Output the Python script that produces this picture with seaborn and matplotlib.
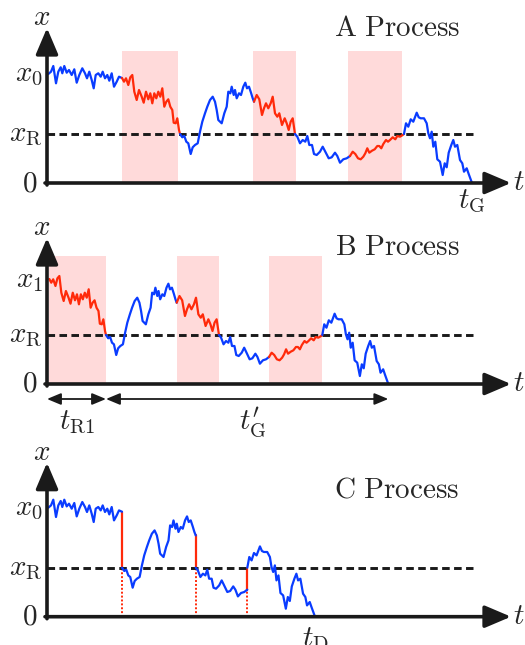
import numpy as np
import matplotlib
matplotlib.use('Agg')
import matplotlib.pyplot as plt
import seaborn as sns

# один и тот же путь x(t), прочитанный с панели A (единицы ~ пиксели)
plateau_t = [1.3, 4, 6.3, 9, 11.3, 13.7, 15.3, 17.3, 19.7, 22, 24.7, 27.3, 29.7, 32.3, 35.3, 38,
             40, 42.3, 44.7, 46.7, 48.7, 51.3, 53.7, 55.7, 58, 60.3, 62.3, 64.7, 67, 69.7, 72, 75]
plateau_x = [109, 111.3, 117, 99.7, 111.3, 115.7, 109.7, 117, 110.3, 113, 108, 113.7, 100.3, 108,
             114.7, 109.7, 104.7, 111.3, 103, 94.7, 108, 109.7, 106.3, 111.3, 104.7, 108, 102.3,
             109.7, 96.3, 101.3, 106.3, 105]
red1_t = [75, 77, 79, 81.3, 83.3, 85.3, 87.3, 89.7, 92, 94.7, 96.7, 99, 101.3, 103.3, 105.3, 107.3,
          109.3, 111.3, 113.3, 115.3, 117.3, 119.3, 121.3, 123.3, 125.3, 126.7, 128.7, 130.3, 132, 133]
red1_x = [105, 101.3, 104.7, 98, 105.7, 108, 91.3, 83, 93, 86.3, 80.3, 91.3, 83.7, 89.7, 79.7, 89.7,
          84.7, 91.3, 86.3, 94.7, 76.3, 81.3, 83.7, 76.3, 73, 60.3, 59.7, 64.7, 53, 49]
blue2_t = [133, 135.3, 137.3, 139.3, 141.3, 143.7, 145.7, 148, 150.7, 153, 155.3, 158, 160.3, 163,
           165.7, 168, 169.7, 171.3, 174.7, 177.3, 179.7, 181.3, 183.3, 184.7, 186.7, 188, 189.7,
           192, 194, 196.3, 198.3, 200, 202, 204, 205.7, 207]
blue2_x = [49, 45.7, 47, 41.3, 39.7, 29, 35.7, 38, 39.7, 51.3, 61.3, 69.7, 76.3, 83, 86.3, 81.3, 73,
           63, 59.7, 69.7, 76.3, 91.3, 89.7, 96.3, 88, 93, 84.7, 89.7, 88, 96.3, 100.3, 94.7, 96.3,
           90.3, 84.7, 81.3]
red3_t = [207, 209.7, 212.3, 215, 217, 219, 221.3, 223.7, 225.7, 228, 230.3, 232.3, 235, 237.7,
          239.7, 241.7, 243.7, 245.7, 248]
red3_x = [81.3, 88, 83.7, 68, 74.7, 79.7, 74.7, 79.7, 86.3, 69.7, 66.3, 69.7, 58, 64.7, 59.7, 53,
          61.3, 64.7, 49]
blue4_t = [248, 250.3, 253, 255.7, 258.3, 260.3, 262.3, 265, 267, 269.7, 273, 275.7, 278.3, 281.7,
           284.7, 288, 290.3, 293, 296.3, 299.7, 303]
blue4_x = [49, 46.3, 39.7, 43, 41.3, 47, 38, 38, 29, 28, 31.3, 36.3, 31.3, 24.7, 25.7, 30.3, 27,
           20.3, 23.7, 24.7, 27]
red5_t = [303, 305.7, 308.3, 311, 313.7, 316.3, 318.3, 320.3, 322.3, 325, 327.7, 330.3, 332.3,
          334.3, 336.3, 339, 341, 343, 345.7, 348.3, 350.3, 353, 355.7, 357]
red5_x = [27, 31.3, 29, 24.7, 23.7, 26.3, 29.7, 34.7, 30.3, 32.3, 33.7, 37, 37, 34.7, 39, 43, 41.3,
          43, 45.7, 43.7, 47, 46.3, 48, 49]
blue6_t = [357, 359, 361.3, 363.7, 366.3, 369.7, 371.7, 373.7, 377, 379.7, 381.3, 383, 384.7,
           386.3, 388.3, 390.3, 393, 395.7, 397.7, 399.7, 401.7, 404.3, 406.3, 408, 410.3, 413,
           415.3, 417, 419.7, 421.7, 425]
blue6_x = [49, 59.7, 56.3, 63.7, 61.3, 70.3, 65.7, 64.7, 64.7, 59.7, 49.7, 44.7, 51.3, 36.3, 41.3,
           23.7, 21.3, 8, 19.7, 15.7, 30.3, 38, 43, 36.3, 38, 23, 19.7, 11.3, 14.7, 9, 0]

x_R = 49
x_0 = 109
x_1 = 104

# границы участков на панелях B и C
b_bounds = [2.3, 59, 129.7, 172, 222, 275.3, 341.3]
c_bounds = [75, 148.7, 200.3, 268]

shades_a = [(75, 131), (206, 249), (301, 355)]
shades_b = [(2.3, 59), (129.7, 172), (222, 275.3)]

blue = '#0a3cff'
red = '#ff2a0a'
pink = '#ffdada'


def place(t, t0, t1):
    t = np.asarray(t, dtype=float)
    return t0 + (t - t[0]) * (t1 - t0) / (t[-1] - t[0])


def seg(ax, t, x, color):
    sns.lineplot(x=t, y=x, color=color, lw=1.6, sort=False, estimator=None, ax=ax, zorder=4)


def frame(ax, ytop, title, title_x, ticks, tlabel):
    ax.axis('off')
    ax.annotate('', xy=(464, 0), xytext=(-2, 0),
                arrowprops=dict(arrowstyle='-|>,head_length=0.8,head_width=0.34',
                                lw=2.6, color='k', mutation_scale=20, shrinkA=0, shrinkB=0), zorder=6)
    ax.annotate('', xy=(0, ytop), xytext=(0, -2),
                arrowprops=dict(arrowstyle='-|>,head_length=0.8,head_width=0.34',
                                lw=2.6, color='k', mutation_scale=20, shrinkA=0, shrinkB=0), zorder=6)
    ax.plot([0, 426], [x_R, x_R], color='k', lw=2.1, ls=(0, (2.6, 1.5)), zorder=3)
    ax.text(-5, ytop + 11, r'$x$', fontsize=21, ha='center', va='center')
    ax.text(466, 1, r'$t$', fontsize=21, ha='left', va='center')
    ax.text(350, title_x, r'$\mathrm{' + title + r'}$', fontsize=21, ha='center', va='center')
    for val, lab, dx in ticks:
        ax.text(dx, val, lab, fontsize=21, ha='right', va='center')
    if tlabel is not None:
        ax.text(tlabel[0], tlabel[1], tlabel[2], fontsize=21, ha='center', va='top')


sns.set_theme(style='white')
plt.rcParams['mathtext.fontset'] = 'cm'
fig = plt.figure(figsize=(5.25, 6.45), dpi=100)

H = 645.0
ax_a = fig.add_axes([0, (H - 210) / H, 1, 210 / H])
ax_a.set_xlim(-47, 478)
ax_a.set_ylim(-27, 183)
ax_b = fig.add_axes([0, (H - 435) / H, 1, 225 / H])
ax_b.set_xlim(-47, 478)
ax_b.set_ylim(-51, 174)
ax_c = fig.add_axes([0, 0, 1, 210 / H])
ax_c.set_xlim(-47, 478)
ax_c.set_ylim(-28.3, 181.7)

segments = [(red1_t, red1_x, red), (blue2_t, blue2_x, blue), (red3_t, red3_x, red),
            (blue4_t, blue4_x, blue), (red5_t, red5_x, red), (blue6_t, blue6_x, blue)]

# A
for s0, s1 in shades_a:
    ax_a.fill_between([s0, s1], 0, 132, color=pink, lw=0, zorder=1)
seg(ax_a, plateau_t, plateau_x, blue)
for t, x, c in segments:
    seg(ax_a, t, x, c)
frame(ax_a, 155, r'A\ Process', 155,
      [(x_0, r'$x_0$', -4), (x_R, r'$x_\mathrm{R}$', -4), (0, r'$0$', -10)],
      (425, -4, r'$t_\mathrm{G}$'))

# B
for s0, s1 in shades_b:
    ax_b.fill_between([s0, s1], 0, 128, color=pink, lw=0, zorder=1)
for i, (t, x, c) in enumerate(segments):
    seg(ax_b, place(t, b_bounds[i], b_bounds[i + 1]), x, c)
frame(ax_b, 146, r'B\ Process', 137,
      [(x_1, r'$x_1$', -4), (x_R, r'$x_\mathrm{R}$', -4), (0, r'$0$', -10)], None)
arr = dict(arrowstyle='<|-|>,head_length=0.6,head_width=0.25', lw=1.3, color='k',
           mutation_scale=14, shrinkA=0, shrinkB=0)
ax_b.annotate('', xy=(0, -15), xytext=(b_bounds[1], -15), arrowprops=arr)
ax_b.annotate('', xy=(b_bounds[1], -15), xytext=(b_bounds[-1], -15), arrowprops=arr)
ax_b.text(30, -24, r'$t_\mathrm{R1}$', fontsize=21, ha='center', va='top')
ax_b.text(206, -21, r"$t_\mathrm{G}^{\prime}$", fontsize=21, ha='center', va='top')

# C
seg(ax_c, plateau_t, plateau_x, blue)
blues = [(blue2_t, blue2_x), (blue4_t, blue4_x), (blue6_t, blue6_x)]
prev = plateau_x[-1]
for i, (t, x) in enumerate(blues):
    tj = c_bounds[i]
    ax_c.plot([tj, tj], [0, x_R], color=red, lw=1.4, ls=(0, (1, 1)), zorder=2)
    ax_c.plot([tj, tj], [prev, x_R], color=red, lw=1.6, zorder=3)
    seg(ax_c, place(t, c_bounds[i], c_bounds[i + 1]), x, blue)
    prev = x[-1]
frame(ax_c, 154, r'C\ Process', 127,
      [(x_0, r'$x_0$', -4), (x_R, r'$x_\mathrm{R}$', -4), (0, r'$0$', -10)],
      (c_bounds[-1], -8, r'$t_\mathrm{D}$'))

plt.savefig('out.png', dpi=100)
plt.close()
